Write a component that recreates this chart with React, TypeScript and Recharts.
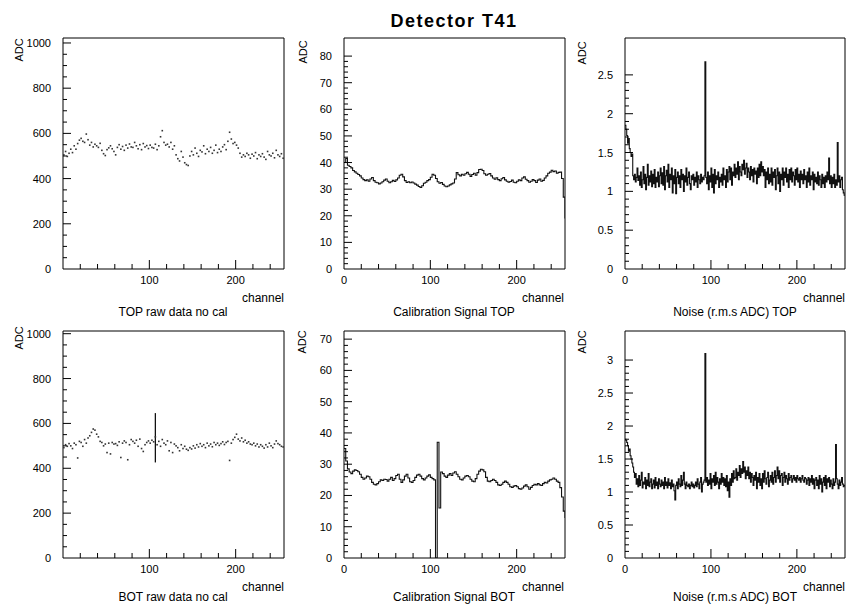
import React from 'react';
import { ComposedChart, Line, Scatter, XAxis, YAxis, ReferenceArea, ReferenceLine } from 'recharts';

const FONT = '"Liberation Sans", Arial, Helvetica, sans-serif';

// raw pedestal readout, one point every other channel (1, 3, ..., 255)
const topRawAdc = [
  505, 520, 498, 512, 530, 515, 545, 530, 555, 570,
  578, 565, 560, 597, 572, 548, 560, 540, 552, 545,
  538, 556, 525, 510, 502, 528, 536, 545, 532, 520,
  505, 538, 550, 530, 542, 525, 548, 535, 553, 540,
  538, 560, 545, 532, 550, 528, 555, 540, 546, 533,
  548, 538, 535, 552, 528, 545, 585, 612, 560, 548,
  552, 540, 560, 530, 545, 505, 488, 478, 520, 495,
  470, 462, 458, 500, 520, 505, 535, 512, 498, 525,
  518, 545, 510, 530, 520, 538, 512, 525, 548, 515,
  530, 520, 540, 550, 528, 565, 605, 575, 555, 560,
  548, 535, 512, 495, 505, 498, 512, 505, 490, 508,
  500, 515, 488, 505, 498, 510, 495, 485, 520, 505,
  500, 512, 492, 525, 505, 498, 510, 490,
];

const botRawAdc = [
  492, 505, 498, 510, 500, 488, 512, 505, 446, 520,
  515, 498, 528, 512, 535, 545, 560, 575, 570, 552,
  540, 520, 515, 500, 508, 470, 512, 464, 515, 508,
  510, 502, 518, 448, 512, 522, 515, 438, 505, 528,
  520, 512, 525, 498, 530, 488, 475, 505, 515, 522,
  512, 525, 518, 540, 505, 520, 498, 528, 512, 505,
  522, 478, 515, 470, 508, 500, 492, 478, 505, 488,
  498, 485, 480, 492, 486, 500, 490, 505, 495, 510,
  498, 505, 492, 512, 500, 508, 496, 515, 505, 512,
  502, 510, 518, 506, 515, 520, 435, 512, 528, 538,
  552, 530, 522, 535, 518, 525, 512, 518, 508, 505,
  512, 500, 508, 495, 505, 498, 490, 505, 495, 512,
  500, 492, 508, 522, 510, 505, 498, 495,
];

// noisy channel 107 in the BOT raw data: min / max of the readout
const botRawSpikeCh = 107;
const botRawSpikeAdc = [426, 646];

// calibration histograms, 2-channel bins from 0, last entry closes the range at 256
const topCalAdc = [
  40, 41.5, 39, 38.5, 38, 37, 36.5, 36, 35.5, 35,
  34.2, 33.6, 33.2, 33.5, 33, 33.8, 34.4, 33.2, 32.6, 32.4,
  32, 32.3, 32.8, 33.4, 33.8, 33, 32.4, 32.8, 33.3, 32.9,
  33.5, 34.2, 35.2, 35.6, 34.6, 33.2, 32.5, 32.8, 32.4, 32.7,
  32.3, 31.9, 31.5, 31, 30.6, 31.3, 32.2, 32.6, 33.2, 33.6,
  34.5, 35.6, 35.2, 34, 32.8, 32.2, 32.5, 31.8, 31.2, 30.9,
  31.2, 31.6, 32, 32.3, 33.8, 36.2, 35.4, 35, 35.6, 35.2,
  35.8, 36.3, 35.6, 34.8, 35.5, 36, 35.2, 36.2, 37.4, 37.5,
  37, 35.8, 35.2, 35.6, 35.9, 35, 34.2, 33.7, 34.3, 33.6,
  33.2, 33.9, 34.4, 33.5, 33, 32.6, 32.9, 33.4, 32.6, 32.4,
  33, 33.5, 33.2, 34.2, 34.6, 33.7, 33.2, 32.6, 33, 33.6,
  33.2, 32.5, 33.4, 33.8, 33, 33.3, 34.2, 35, 36, 36.4,
  37.1, 36.6, 36.8, 36, 36.3, 36.4, 34, 27, 19,
];

const botCalAdc = [
  35, 31, 28.5, 27.5, 27, 27.8, 28.2, 28, 27.6, 26.8,
  25.8, 25.2, 25.6, 26.2, 26, 25.2, 24.2, 23.6, 23.4, 23.8,
  24.4, 25, 24.8, 25.2, 25.1, 24.6, 25.2, 25.8, 24.8, 25.4,
  26.4, 26.8, 25.2, 24.2, 25, 26.2, 26.8, 25.6, 24.4, 24.2,
  24.8, 25.8, 26.5, 26.8, 26.2, 25.4, 25, 25.6, 26.2, 26.6,
  25.8, 25.4, 25, 0, 37, 16, 27.5, 27, 26.2, 25.8,
  26.5, 27, 26.4, 27.2, 27.6, 26.8, 26, 25.2, 25, 25.6,
  26.2, 26.4, 26, 25.2, 24.6, 24.4, 25.4, 26.8, 27.8, 28.4,
  28.2, 27.6, 25.8, 24.6, 24.4, 24.8, 25.2, 24.8, 24.2, 23.4,
  23.2, 23.6, 24.2, 24.6, 24.2, 23.6, 22.8, 22.6, 23, 23.2,
  22.8, 22.2, 22, 22.4, 23, 23.4, 22.8, 22, 22.6, 23.2,
  23.6, 23.4, 23.8, 23.4, 23.2, 23.8, 24.2, 24, 24.6, 25,
  25.2, 25.6, 25.2, 24.6, 24.2, 22.5, 19.5, 15, 12.8,
];

// noise histograms, one bin per channel, last entry closes the range at 256
const topNoiseAdc = [
  1.85, 1.8, 1.72, 1.62, 1.68, 1.55, 1.5, 1.45, 1.48, 1.2, 1.15, 1.22, 1.12, 1.18, 1.3, 1.14,
  1.2, 1.08, 1.25, 1.05, 1.15, 1.32, 1.1, 1.22, 1.02, 1.18, 1.35, 1.08, 1.2, 1.12, 1.26, 1.06,
  1.22, 1.1, 1.28, 1.05, 1.18, 1.12, 1.25, 1.06, 1.2, 1.3, 1.1, 1.24, 1.08, 1.32, 1.02, 1.2,
  1.27, 1.12, 1.35, 1.05, 1.22, 1.15, 1.3, 0.98, 1.2, 1.1, 1.28, 0.97, 1.18, 1.25, 1.1, 1.2,
  1.05, 1.28, 1.15, 1.22, 1.0, 1.2, 1.12, 1.3, 1.08, 1.18, 1.25, 1.1, 1.02, 1.2, 1.15, 1.22,
  1.08, 1.18, 1.12, 1.25, 1.05, 1.2, 1.15, 1.1, 1.22, 1.12, 1.18, 1.15, 1.2, 2.67, 1.18, 1.1,
  1.25, 1.02, 1.2, 1.12, 1.3, 1.05, 1.22, 0.98, 1.28, 1.1, 1.2, 1.15, 1.25, 1.05, 1.18, 1.12,
  1.22, 1.08, 1.3, 1.15, 1.2, 1.05, 1.28, 1.12, 1.25, 1.32, 1.15, 1.3, 1.08, 1.25, 1.2, 1.35,
  1.18, 1.3, 1.22, 1.38, 1.15, 1.32, 1.25, 1.2, 1.35, 1.28, 1.4, 1.22, 1.3, 1.36, 1.18, 1.3,
  1.25, 1.15, 1.32, 1.2, 1.28, 1.12, 1.3, 1.22, 1.26, 1.1, 1.3, 1.18, 1.35, 1.2, 1.38, 1.25,
  1.32, 1.2, 1.28, 1.05, 1.25, 1.15, 1.3, 1.1, 1.22, 1.12, 1.3, 1.08, 1.25, 1.18, 1.28, 1.02,
  1.2, 1.3, 1.1, 1.25, 1.0, 1.22, 1.15, 1.3, 1.08, 1.25, 1.18, 1.3, 1.12, 1.22, 1.05, 1.28,
  1.15, 1.3, 1.12, 1.25, 1.2, 1.08, 1.28, 1.15, 1.3, 1.12, 1.22, 1.05, 1.26, 1.15, 1.22, 1.1,
  1.28, 1.15, 1.2, 1.05, 1.25, 1.12, 1.3, 1.08, 1.2, 1.15, 1.25, 1.02, 1.22, 1.12, 1.18, 1.1,
  1.25, 1.08, 1.2, 1.15, 1.05, 1.22, 1.1, 1.18, 1.05, 1.2, 1.12, 1.25, 1.15, 1.43, 1.1, 1.2,
  1.05, 1.18, 1.1, 1.22, 1.05, 1.15, 1.08, 1.63, 1.12, 1.2, 1.05, 1.15, 1.18, 1.02, 0.98, 0.95,
  0.95,
];

const botNoiseAdc = [
  1.8, 1.78, 1.75, 1.7, 1.62, 1.65, 1.55, 1.5, 1.44, 1.38, 1.3, 1.22, 1.28, 1.12, 1.2, 1.08,
  1.25, 1.1, 1.18, 1.3, 1.06, 1.15, 1.12, 1.22, 1.05, 1.18, 1.1, 1.28, 1.08, 1.15, 1.2, 1.05,
  1.12, 1.18, 1.06, 1.22, 1.1, 1.15, 1.05, 1.2, 1.12, 1.08, 1.18, 1.1, 1.15, 1.05, 1.22, 1.1,
  1.15, 1.06, 1.2, 1.1, 1.14, 1.05, 1.18, 1.08, 1.12, 1.02, 0.88, 1.1, 1.15, 1.05, 1.2, 1.12,
  1.08, 1.25, 1.1, 1.18, 1.3, 1.12, 1.05, 1.15, 1.1, 1.08, 1.12, 1.05, 1.1, 1.15, 1.08, 1.12,
  1.06, 1.1, 1.15, 1.08, 1.2, 1.12, 1.05, 1.15, 1.22, 1.0, 1.12, 1.15, 1.18, 3.1, 1.15, 1.22,
  1.1, 1.18, 1.12, 1.28, 1.05, 1.2, 1.15, 1.25, 1.1, 1.3, 1.12, 1.22, 1.15, 1.05, 1.2, 1.12,
  1.28, 1.15, 1.22, 1.1, 1.2, 1.08, 1.25, 1.02, 1.15, 0.92, 1.2, 1.1, 1.28, 1.15, 1.32, 1.2,
  1.22, 1.35, 1.18, 1.3, 1.25, 1.4, 1.22, 1.35, 1.28, 1.46, 1.3, 1.38, 1.2, 1.32, 1.25, 1.38,
  1.2, 1.3, 1.15, 1.28, 1.22, 1.1, 1.25, 1.18, 1.3, 1.05, 1.22, 1.15, 1.28, 1.1, 1.2, 1.05,
  1.28, 1.15, 1.32, 1.2, 1.12, 1.22, 1.3, 1.08, 1.18, 1.25, 1.15, 1.3, 1.12, 1.22, 1.32, 1.15,
  1.25, 1.38, 1.2, 1.32, 1.15, 1.25, 1.28, 1.1, 1.22, 1.3, 1.15, 1.25, 1.2, 1.12, 1.28, 1.18,
  1.22, 1.25, 1.15, 1.2, 1.25, 1.18, 1.22, 1.15, 1.25, 1.2, 1.18, 1.22, 1.15, 1.2, 1.25, 1.18,
  1.15, 1.22, 1.2, 1.12, 1.18, 1.22, 1.1, 1.2, 1.15, 1.25, 1.12, 1.2, 1.05, 1.18, 1.22, 1.1,
  1.18, 1.05, 1.25, 1.12, 1.2, 1.0, 1.15, 1.22, 1.1, 1.25, 1.05, 1.2, 1.15, 1.22, 1.08, 1.18,
  1.12, 1.05, 1.2, 1.1, 1.15, 1.72, 1.2, 1.12, 1.05, 1.18, 1.1, 1.15, 1.22, 1.12, 1.08, 1.1,
  1.1,
];

// labelled axis values
const rawYLabels = [0, 200, 400, 600, 800, 1000];
const topCalYLabels = [0, 10, 20, 30, 40, 50, 60, 70, 80];
const botCalYLabels = [0, 10, 20, 30, 40, 50, 60, 70];
const topNoiseYLabels = [0, 0.5, 1, 1.5, 2, 2.5];
const botNoiseYLabels = [0, 0.5, 1, 1.5, 2, 2.5, 3];
const channelLabels = [100, 200];

type Bin = { ch: number; adc: number };

const rawBins = (vals: number[]): Bin[] => vals.map((adc, i) => ({ ch: 2 * i + 1, adc }));
const histBins = (vals: number[], width: number): Bin[] => vals.map((adc, i) => ({ ch: i * width, adc }));

// evenly spaced minor tick positions
const tickSteps = (max: number, step: number) => {
  const out: number[] = [];
  for (let i = 0; i * step <= max + 1e-9; i++) out.push(Math.round(i * step * 1000) / 1000);
  return out;
};

const PAD_L = 50;
const PAD_T = 6;
const PAD_R = 6;
const PAD_B = 22;

type PanelProps = {
  left: number;
  top: number;
  width: number;
  height: number;
  data: Bin[];
  mode: 'dots' | 'step';
  yMax: number;
  yLabels: number[];
  yMinor: number;
  xZero: boolean;
  spike?: { ch: number; adc: number[] };
};

function Panel(p: PanelProps) {
  const yTop = p.yLabels[p.yLabels.length - 1];
  const yTicks = tickSteps(yTop, p.yMinor);
  const xTicks = tickSteps(240, 20).filter((v) => v > 0 || p.xZero);
  const axisY = PAD_T + p.height;
  const isYLabel = (v: number) => p.yLabels.some((l) => Math.abs(l - v) < 1e-6);
  const xLabelled = p.xZero ? [0, ...channelLabels] : channelLabels;

  const renderXTick = (t: any) => {
    const v = t.payload.value;
    const major = channelLabels.includes(v);
    return (
      <g>
        {v > 0 && <line x1={t.x} x2={t.x} y1={axisY} y2={axisY - (major ? 9 : 5)} stroke="#000" strokeWidth={1} />}
        {xLabelled.includes(v) && (
          <text x={t.x} y={axisY + 15} textAnchor="middle" fontSize={11} fontFamily={FONT} fill="#000">
            {v}
          </text>
        )}
      </g>
    );
  };

  const renderYTick = (t: any) => {
    const v = t.payload.value;
    const major = isYLabel(v);
    return (
      <g>
        {v > 0 && <line x1={PAD_L} x2={PAD_L + (major ? 8 : 4)} y1={t.y} y2={t.y} stroke="#000" strokeWidth={1} />}
        {major && (
          <text x={PAD_L - 12} y={t.y + 4} textAnchor="end" fontSize={11} fontFamily={FONT} fill="#000">
            {v}
          </text>
        )}
      </g>
    );
  };

  return (
    <div style={{ position: 'absolute', left: p.left - PAD_L, top: p.top - PAD_T }}>
      <ComposedChart
        width={p.width + PAD_L + PAD_R}
        height={p.height + PAD_T + PAD_B}
        data={p.data}
        margin={{ top: PAD_T, right: PAD_R, bottom: 0, left: 0 }}
      >
        <XAxis
          dataKey="ch"
          type="number"
          domain={[0, 256]}
          ticks={xTicks}
          interval={0}
          allowDataOverflow
          axisLine={false}
          tickLine={false}
          height={PAD_B}
          tick={renderXTick}
        />
        <YAxis
          type="number"
          domain={[0, p.yMax]}
          ticks={yTicks}
          interval={0}
          allowDataOverflow
          axisLine={false}
          tickLine={false}
          width={PAD_L}
          tick={renderYTick}
        />
        <ReferenceArea x1={0} x2={256} y1={0} y2={p.yMax} fill="none" stroke="#000" strokeWidth={1} ifOverflow="visible" />
        {p.mode === 'step' ? (
          <Line type="stepAfter" dataKey="adc" stroke="#111" strokeWidth={1.1} dot={false} activeDot={false} isAnimationActive={false} />
        ) : (
          <Scatter
            dataKey="adc"
            isAnimationActive={false}
            shape={(s: any) => <rect x={s.cx - 0.8} y={s.cy - 0.8} width={1.6} height={1.6} fill="#333" />}
          />
        )}
        {p.spike && (
          <ReferenceLine
            segment={[
              { x: p.spike.ch, y: p.spike.adc[0] },
              { x: p.spike.ch, y: p.spike.adc[1] },
            ]}
            stroke="#111"
            strokeWidth={1.3}
            ifOverflow="visible"
          />
        )}
      </ComposedChart>
    </div>
  );
}

const TOP_Y = 38;
const TOP_H = 231;
const BOT_Y = 331;
const BOT_H = 227;
const COL_X = [63, 344, 625];

export default function App() {
  return (
    <div style={{ position: 'absolute', left: 0, top: 0, width: 846, height: 607, overflow: 'hidden', background: '#fff' }}>
      <Panel left={COL_X[0]} top={TOP_Y} width={221} height={TOP_H} data={rawBins(topRawAdc)} mode="dots"
        yMax={1022} yLabels={rawYLabels} yMinor={50} xZero={false} />
      <Panel left={COL_X[1]} top={TOP_Y} width={221} height={TOP_H} data={histBins(topCalAdc, 2)} mode="step"
        yMax={86.8} yLabels={topCalYLabels} yMinor={2} xZero />
      <Panel left={COL_X[2]} top={TOP_Y} width={220} height={TOP_H} data={histBins(topNoiseAdc, 1)} mode="step"
        yMax={2.975} yLabels={topNoiseYLabels} yMinor={0.1} xZero />
      <Panel left={COL_X[0]} top={BOT_Y} width={221} height={BOT_H} data={rawBins(botRawAdc)} mode="dots"
        yMax={1012} yLabels={rawYLabels} yMinor={50} xZero={false}
        spike={{ ch: botRawSpikeCh, adc: botRawSpikeAdc }} />
      <Panel left={COL_X[1]} top={BOT_Y} width={221} height={BOT_H} data={histBins(botCalAdc, 2)} mode="step"
        yMax={72.6} yLabels={botCalYLabels} yMinor={2} xZero />
      <Panel left={COL_X[2]} top={BOT_Y} width={220} height={BOT_H} data={histBins(botNoiseAdc, 1)} mode="step"
        yMax={3.44} yLabels={botNoiseYLabels} yMinor={0.1} xZero />

      <svg width={846} height={607} style={{ position: 'absolute', left: 0, top: 0, pointerEvents: 'none' }} fontFamily={FONT}>
        <text x={454} y={27} textAnchor="middle" fontSize={18} fontWeight="bold" letterSpacing={1.5}>
          Detector T41
        </text>

        <text x={173} y={316} textAnchor="middle" fontSize={12}>TOP raw data no cal</text>
        <text x={454} y={316} textAnchor="middle" fontSize={12}>Calibration Signal TOP</text>
        <text x={735} y={316} textAnchor="middle" fontSize={12}>Noise (r.m.s ADC) TOP</text>
        <text x={173} y={601} textAnchor="middle" fontSize={12}>BOT raw data no cal</text>
        <text x={454} y={601} textAnchor="middle" fontSize={12}>Calibration Signal BOT</text>
        <text x={735} y={601} textAnchor="middle" fontSize={12}>Noise (r.m.s ADC) BOT</text>

        <text x={284} y={302} textAnchor="end" fontSize={12}>channel</text>
        <text x={564} y={302} textAnchor="end" fontSize={12}>channel</text>
        <text x={845} y={302} textAnchor="end" fontSize={12}>channel</text>
        <text x={284} y={591} textAnchor="end" fontSize={12}>channel</text>
        <text x={564} y={591} textAnchor="end" fontSize={12}>channel</text>
        <text x={845} y={591} textAnchor="end" fontSize={12}>channel</text>

        <text transform="translate(23,50) rotate(-90)" textAnchor="middle" fontSize={11}>ADC</text>
        <text transform="translate(306.5,52) rotate(-90)" textAnchor="middle" fontSize={11}>ADC</text>
        <text transform="translate(586,53) rotate(-90)" textAnchor="middle" fontSize={11}>ADC</text>
        <text transform="translate(23,338) rotate(-90)" textAnchor="middle" fontSize={11}>ADC</text>
        <text transform="translate(306,342) rotate(-90)" textAnchor="middle" fontSize={11}>ADC</text>
        <text transform="translate(586,342) rotate(-90)" textAnchor="middle" fontSize={11}>ADC</text>
      </svg>
    </div>
  );
}
